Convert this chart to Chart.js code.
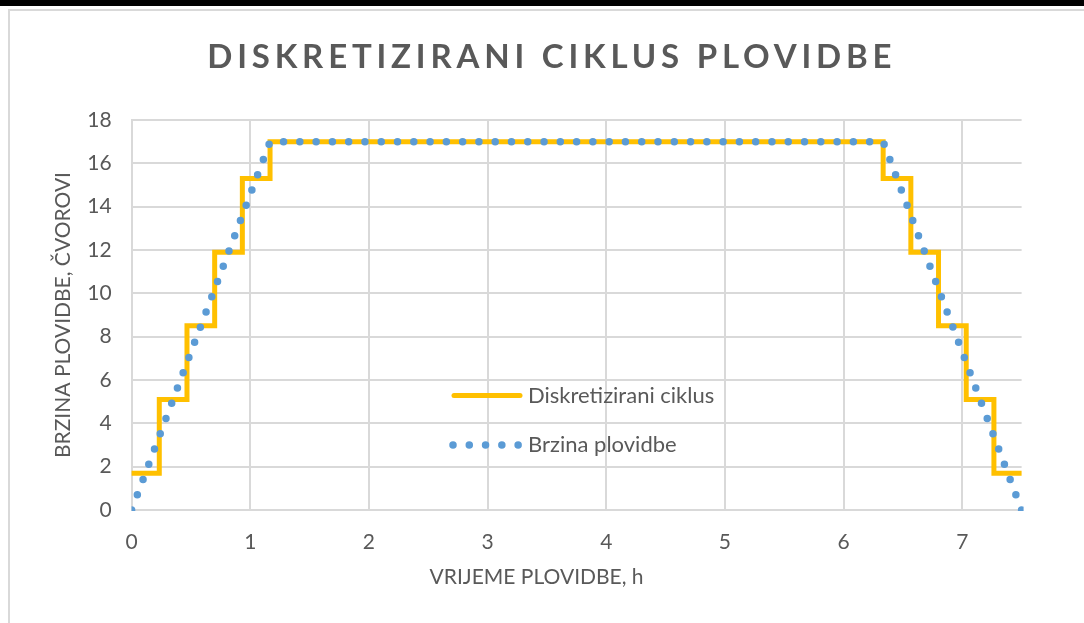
<!DOCTYPE html>
<html>
<head>
<meta charset="utf-8">
<title>Diskretizirani ciklus plovidbe</title>
<script src="https://cdn.jsdelivr.net/npm/chart.js"></script>
<style>
	html, body { margin: 0; padding: 0; background: #fff; }
	#page { position: relative; width: 1084px; height: 623px; overflow: hidden; }
	#topbar { position: absolute; left: 0; top: 0; width: 1084px; height: 6px; background: #000; }
	#frame { position: absolute; left: 8px; top: 9px; width: 1100px; height: 640px; border-top: 2px solid #d9d9d9; border-left: 2px solid #d9d9d9; }
	#chart { position: absolute; left: 0; top: 0; }
</style>
</head>
<body>
<div id="page">
	<div id="topbar"></div>
	<div id="frame"></div>
	<canvas id="chart" width="1084" height="623"></canvas>
</div>
<script>
// brzina plovidbe - kontinuirani ciklus (h, cvorovi)
var cycleTimes = [0, 1.1667, 6.3333, 7.5];
var cycleSpeeds = [0, 17, 17, 0];

// diskretizirani ciklus - stepenice
var stepTimes = [0, 0.2333, 0.4667, 0.7, 0.9333, 1.1667, 6.3333, 6.5667, 6.8, 7.0333, 7.2667, 7.5];
var stepSpeeds = [1.7, 5.1, 8.5, 11.9, 15.3, 17, 15.3, 11.9, 8.5, 5.1, 1.7, 1.7];

var seriesNames = ['Diskretizirani ciklus', 'Brzina plovidbe'];
var xTicks = [0, 1, 2, 3, 4, 5, 6, 7];
var yTicks = [0, 2, 4, 6, 8, 10, 12, 14, 16, 18];

var TEXT = '#595959';
var GRID = '#d9d9d9';
var FONT = 'Lato, "Open Sans", sans-serif';

function toPoints(xs, ys) {
	var pts = [];
	for (var i = 0; i < xs.length; i++) {
		pts.push({x: xs[i], y: ys[i]});
	}
	return pts;
}

function tickSetter(values) {
	return function(scale) {
		scale.ticks = values.map(function(v) { return {value: v}; });
	};
}

// legenda unutar grafa
var innerLegend = {
	id: 'innerLegend',
	afterDatasetsDraw: function(chart) {
		var ctx = chart.ctx;
		var rows = [
			{y: 395.5, x0: 454, x1: 520},
			{y: 445, x0: 453, x1: 521}
		];
		chart.data.datasets.forEach(function(ds, i) {
			var r = rows[i];
			ctx.save();
			ctx.beginPath();
			ctx.strokeStyle = ds.borderColor;
			ctx.lineWidth = ds.borderWidth;
			ctx.lineCap = 'round';
			ctx.setLineDash(ds.borderDash || []);
			ctx.moveTo(r.x0, r.y);
			ctx.lineTo(r.x1, r.y);
			ctx.stroke();
			ctx.setLineDash([]);
			ctx.fillStyle = TEXT;
			ctx.font = '22px ' + FONT;
			ctx.textAlign = 'left';
			ctx.textBaseline = 'middle';
			ctx.fillText(ds.label, 528, r.y);
			ctx.restore();
		});
	}
};

// razmak slova u naslovu i pomak naslova osi x
var textTweaks = {
	id: 'textTweaks',
	beforeDraw: function(chart) {
		var tb = chart.titleBlock;
		if (tb && !tb._tweaked) {
			var drawTitle = tb.draw;
			tb.draw = function() {
				this.ctx.save();
				this.ctx.letterSpacing = '4.8px';
				this.ctx.translate(41, 0);
				drawTitle.apply(this, arguments);
				this.ctx.restore();
			};
			tb._tweaked = true;
		}
		var sx = chart.scales.x;
		if (sx && !sx._tweaked) {
			var drawAxisTitle = sx.drawTitle;
			sx.drawTitle = function() {
				this.ctx.save();
				this.ctx.translate(-40, 0);
				drawAxisTitle.apply(this, arguments);
				this.ctx.restore();
			};
			sx._tweaked = true;
		}
	}
};

Chart.defaults.font.family = FONT;
Chart.defaults.color = TEXT;

var chart = new Chart(document.getElementById('chart'), {
	type: 'line',
	data: {
		datasets: [
			{
				label: seriesNames[0],
				data: toPoints(stepTimes, stepSpeeds),
				stepped: 'before',
				borderColor: '#FFC000',
				backgroundColor: '#FFC000',
				borderWidth: 5,
				borderCapStyle: 'butt',
				pointRadius: 0,
				fill: false,
				clip: 3,
				order: 1
			},
			{
				label: seriesNames[1],
				data: toPoints(cycleTimes, cycleSpeeds),
				borderColor: '#5B9BD5',
				backgroundColor: '#5B9BD5',
				borderWidth: 7.5,
				borderDash: [0, 16.28],
				borderCapStyle: 'round',
				pointRadius: 0,
				fill: false,
				tension: 0,
				clip: {left: 0, top: 4, right: 2, bottom: 1},
				order: 0
			}
		]
	},
	options: {
		responsive: false,
		animation: false,
		events: [],
		layout: {
			padding: {left: 0, right: 62.4, top: 0, bottom: 33}
		},
		plugins: {
			legend: {display: false},
			tooltip: {enabled: false},
			title: {
				display: true,
				text: 'DISKRETIZIRANI CIKLUS PLOVIDBE',
				color: TEXT,
				font: {size: 33, weight: 'bold'},
				padding: {top: 38, bottom: 42.4}
			}
		},
		scales: {
			x: {
				type: 'linear',
				min: 0,
				max: 7.5,
				afterBuildTicks: tickSetter(xTicks),
				afterFit: function(scale) { scale.height = 80; },
				grid: {color: GRID, lineWidth: 2, drawTicks: false},
				border: {color: GRID, width: 2},
				ticks: {padding: 20, color: TEXT, font: {size: 21}, maxRotation: 0},
				title: {
					display: true,
					text: 'VRIJEME PLOVIDBE, h',
					color: TEXT,
					font: {size: 21},
					padding: {top: 0, bottom: 0}
				}
			},
			y: {
				type: 'linear',
				min: 0,
				max: 18,
				afterBuildTicks: tickSetter(yTicks),
				afterFit: function(scale) { scale.width = 131.6; },
				grid: {color: GRID, lineWidth: 2, drawTicks: false},
				border: {color: GRID, width: 2},
				ticks: {padding: 20, color: TEXT, font: {size: 21}},
				title: {
					display: true,
					text: 'BRZINA PLOVIDBE, ČVOROVI',
					color: TEXT,
					font: {size: 21},
					padding: {top: 51, bottom: 0}
				}
			}
		}
	},
	plugins: [innerLegend, textTweaks]
});
</script>
</body>
</html>
